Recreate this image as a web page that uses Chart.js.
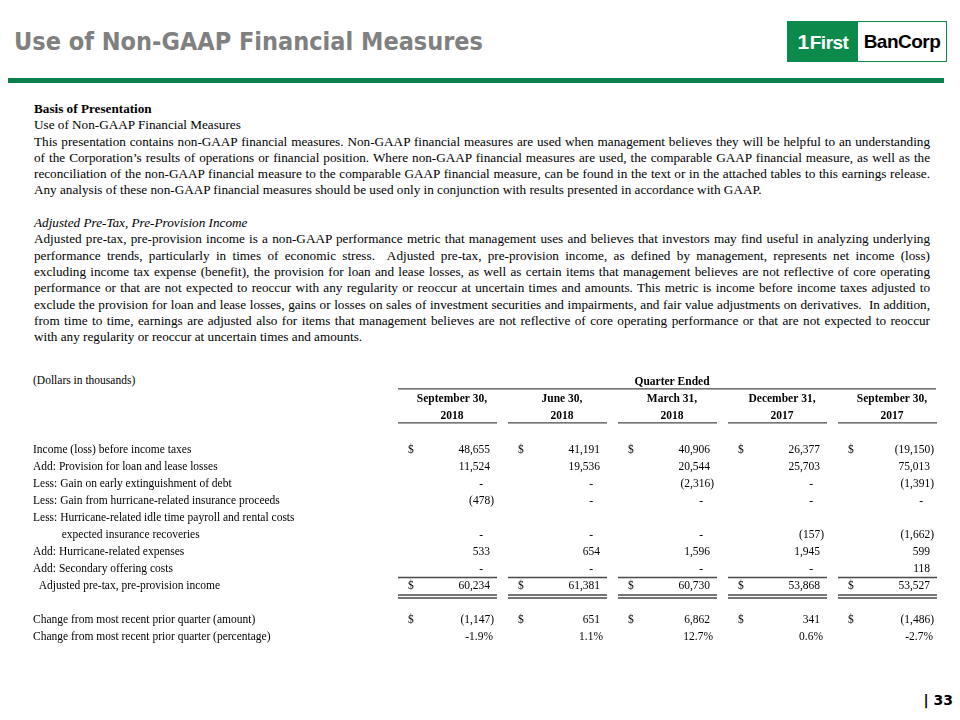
<!DOCTYPE html>
<html>
<head>
<meta charset="utf-8">
<script src="https://cdn.jsdelivr.net/npm/chart.js@4.4.1/dist/chart.umd.min.js"></script>
<style>
  html, body { margin: 0; padding: 0; background: #fff; }
  #page { position: relative; width: 960px; height: 720px; overflow: hidden; background: #fff; }
  .title { position: absolute; left: 14px; top: 27px; font: bold 25px 'DejaVu Sans Condensed', 'DejaVu Sans', sans-serif; color: #808080; white-space: nowrap; }
  .logo { position: absolute; left: 787px; top: 21px; width: 160px; height: 41px; border: 1px solid #0b8a4c; box-sizing: border-box; font-family: 'Liberation Sans', Arial, sans-serif; font-weight: bold; }
  .logo .g { position: absolute; left: 0; top: 0; width: 70px; height: 39px; background: #0b8a4c; color: #fff; font-size: 19px; line-height: 39px; text-align: center; letter-spacing: -0.5px; }
  .logo .g b { font-size: 21px; margin-right: 1px; }
  .logo .w { position: absolute; left: 70px; top: 0; width: 88px; height: 39px; color: #000; font-size: 19px; line-height: 39px; text-align: center; letter-spacing: -0.5px; }
  .bar { position: absolute; left: 8px; top: 78px; width: 936px; height: 5px; background: #0b7f4e; }
  .body { position: absolute; left: 34px; top: 101px; width: 896px; font-family: 'Liberation Serif', 'Times New Roman', serif; font-size: 13.2px; line-height: 16.3px; color: #000; }
  .body div { white-space: nowrap; height: 16.3px; }
  .dollars { position: absolute; left: 33px; top: 374px; font: 11.5px 'Liberation Serif', 'Times New Roman', serif; color: #000; }
  .pageno { position: absolute; right: 7px; top: 692px; font: bold 14px 'DejaVu Sans', sans-serif; color: #000; }
  #tableChart { position: absolute; left: 0; top: 360px; }
</style>
</head>
<body>
<div id="page">
  <div class="title">Use of Non-GAAP Financial Measures</div>
  <div class="logo"><div class="g"><b>1</b>First</div><div class="w">BanCorp</div></div>
  <div class="bar"></div>
  <div class="body">
    <div><b>Basis of Presentation</b></div>
    <div>Use of Non-GAAP Financial Measures</div>
    <div class="j">This presentation contains non-GAAP financial measures. Non-GAAP financial measures are used when management believes they will be helpful to an understanding</div>
    <div class="j">of the Corporation’s results of operations or financial position. Where non-GAAP financial measures are used, the comparable GAAP financial measure, as well as the</div>
    <div class="j">reconciliation of the non-GAAP financial measure to the comparable GAAP financial measure, can be found in the text or in the attached tables to this earnings release.</div>
    <div>Any analysis of these non-GAAP financial measures should be used only in conjunction with results presented in accordance with GAAP.</div>
    <div></div>
    <div><i>Adjusted Pre-Tax, Pre-Provision Income</i></div>
    <div class="j">Adjusted pre-tax, pre-provision income is a non-GAAP performance metric that management uses and believes that investors may find useful in analyzing underlying</div>
    <div class="j">performance trends, particularly in times of economic stress.&nbsp; Adjusted pre-tax, pre-provision income, as defined by management, represents net income (loss)</div>
    <div class="j">excluding income tax expense (benefit), the provision for loan and lease losses, as well as certain items that management believes are not reflective of core operating</div>
    <div class="j">performance or that are not expected to reoccur with any regularity or reoccur at uncertain times and amounts. This metric is income before income taxes adjusted to</div>
    <div class="j">exclude the provision for loan and lease losses, gains or losses on sales of investment securities and impairments, and fair value adjustments on derivatives.&nbsp; In addition,</div>
    <div class="j">from time to time, earnings are adjusted also for items that management believes are not reflective of core operating performance or that are not expected to reoccur</div>
    <div>with any regularity or reoccur at uncertain times and amounts.</div>
  </div>
  <div class="dollars">(Dollars in thousands)</div>
  <canvas id="tableChart" width="960" height="300"></canvas>
  <div class="pageno">| 33</div>
</div>
<script>
// quarters shown as columns
var quarterLabels = ['September 30, 2018', 'June 30, 2018', 'March 31, 2018', 'December 31, 2017', 'September 30, 2017'];

// table rows (the blank one separates the totals from the change rows)
var rowLabels = [
  'Income (loss) before income taxes',
  'Add: Provision for loan and lease losses',
  'Less: Gain on early extinguishment of debt',
  'Less: Gain from hurricane-related insurance proceeds',
  'Less: Hurricane-related idle time payroll and rental costs',
  '          expected insurance recoveries',
  'Add: Hurricane-related expenses',
  'Add: Secondary offering costs',
  '  Adjusted pre-tax, pre-provision income',
  '',
  'Change from most recent prior quarter (amount)',
  'Change from most recent prior quarter (percentage)'
];

// values per quarter, in thousands (0 is shown as "-", null means no value on that row)
var sep2018 = [48655, 11524, 0, -478, null, 0, 533, 0, 60234];
var jun2018 = [41191, 19536, 0, 0, null, 0, 654, 0, 61381];
var mar2018 = [40906, 20544, -2316, 0, null, 0, 1596, 0, 60730];
var dec2017 = [26377, 25703, 0, 0, null, -157, 1945, 0, 53868];
var sep2017 = [-19150, 75013, -1391, 0, null, -1662, 599, 118, 53527];

var changeAmount = [-1147, 651, 6862, 341, -1486];
var changePercent = [-1.9, 1.1, 12.7, 0.6, -2.7];

// rows that get a "$" sign
var dollarRows = [0, 8, 10];

var quarterValues = [sep2018, jun2018, mar2018, dec2017, sep2017];

// spread out the justified lines of the text to the full width
document.querySelectorAll('.body .j').forEach(function (el) {
  var range = document.createRange();
  range.selectNodeContents(el);
  var w = range.getBoundingClientRect().width;
  var spaces = (el.textContent.match(/[ \u00a0]/g) || []).length;
  el.style.wordSpacing = ((896 - w) / spaces) + 'px';
});

var serif = "'Liberation Serif', 'Times New Roman', serif";
Chart.defaults.font.family = serif;
Chart.defaults.color = '#000';

function fmtNumber(v) {
  if (v === 0) return '-';
  var s = Math.abs(v).toLocaleString('en-US');
  return v < 0 ? '(' + s + ')' : s;
}

var datasets = quarterLabels.map(function (q, c) {
  var points = [];
  quarterValues[c].forEach(function (v, r) {
    if (v !== null) points.push({ x: q, y: rowLabels[r], v: v, row: r, pct: false });
  });
  points.push({ x: q, y: rowLabels[10], v: changeAmount[c], row: 10, pct: false });
  points.push({ x: q, y: rowLabels[11], v: changePercent[c], row: 11, pct: true });
  return { label: q, data: points, pointRadius: 0, pointHoverRadius: 0, showLine: false };
});

// writes the cell texts and draws the table rules
var tableCells = {
  id: 'tableCells',
  afterDatasetsDraw: function (chart) {
    var ctx = chart.ctx;
    var xs = chart.scales.x;
    var ys = chart.scales.y;
    ctx.save();
    ctx.font = '11.5px ' + serif;
    ctx.fillStyle = '#000';
    ctx.textBaseline = 'middle';

    chart.data.datasets.forEach(function (ds, c) {
      chart.getDatasetMeta(c).data.forEach(function (pt, i) {
        var d = ds.data[i];
        var right = pt.x + 42;
        ctx.textAlign = 'right';
        if (d.pct) {
          ctx.fillText(d.v.toFixed(1) + '%', right - 1, pt.y);
        } else if (d.v === 0) {
          ctx.fillText('-', right - 11, pt.y);
        } else if (d.v < 0) {
          ctx.fillText(fmtNumber(d.v), right, pt.y);
        } else {
          ctx.fillText(fmtNumber(d.v), right - 4, pt.y);
        }
        if (dollarRows.indexOf(d.row) !== -1) {
          ctx.textAlign = 'left';
          ctx.fillText('$', pt.x - 44, pt.y);
        }
      });
    });

    var top = ys.getPixelForValue(0);
    var adj = ys.getPixelForValue(8);
    ctx.strokeStyle = '#4a4a4a';
    ctx.lineWidth = 1.3;
    ctx.beginPath();
    ctx.moveTo(xs.left + 1, top - 61);
    ctx.lineTo(xs.right - 11, top - 61);
    quarterLabels.forEach(function (q, c) {
      var cx = xs.getPixelForValue(c);
      [top - 27, adj - 8.5, adj + 9, adj + 12].forEach(function (ly) {
        ctx.moveTo(cx - 54, ly);
        ctx.lineTo(cx + 45, ly);
      });
    });
    ctx.stroke();
    ctx.restore();
  }
};

new Chart(document.getElementById('tableChart'), {
  type: 'scatter',
  data: { datasets: datasets },
  options: {
    responsive: false,
    animation: false,
    events: [],
    layout: { padding: { left: 33, right: 13, top: 0, bottom: 14.5 } },
    plugins: {
      legend: { display: false },
      tooltip: { enabled: false },
      title: {
        display: true,
        text: 'Quarter Ended',
        fullSize: false,
        color: '#000',
        font: { family: serif, size: 11.5, weight: 'bold', lineHeight: 1.3 },
        padding: { top: 14.5, bottom: 1 }
      }
    },
    scales: {
      x: {
        type: 'category',
        labels: quarterLabels,
        position: 'top',
        offset: true,
        grid: { display: false, drawTicks: false },
        border: { display: false },
        afterFit: function (scale) { scale.height = 51; },
        ticks: {
          autoSkip: false,
          maxRotation: 0,
          padding: 17,
          color: '#000',
          font: { family: serif, size: 11.5, weight: 'bold', lineHeight: 17 / 11.5 },
          callback: function (value) {
            var parts = this.getLabelForValue(value).split(', ');
            return [parts[0] + ',', parts[1]];
          }
        }
      },
      y: {
        type: 'category',
        labels: rowLabels,
        offset: true,
        grid: { display: false, drawTicks: false },
        border: { display: false },
        afterFit: function (scale) { scale.width = 364; },
        ticks: {
          autoSkip: false,
          crossAlign: 'far',
          color: '#000',
          font: { family: serif, size: 11.5, lineHeight: 17 / 11.5 }
        }
      }
    }
  },
  plugins: [tableCells]
});
</script>
</body>
</html>
